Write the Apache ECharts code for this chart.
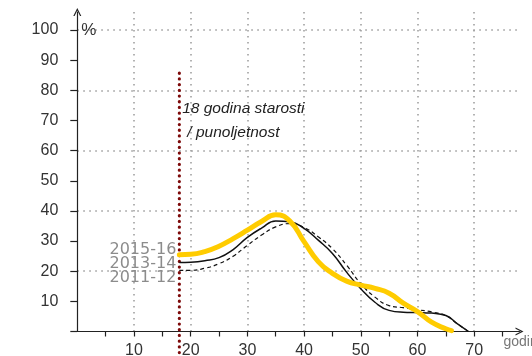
<!DOCTYPE html>
<html><head><meta charset="utf-8">
<script src="https://cdn.jsdelivr.net/npm/echarts@6/dist/echarts.min.js"></script>
<style>html,body{margin:0;padding:0;background:#fff}#c{width:532px;height:356px}</style>
</head><body><div id="c"></div>
<script>
// ---- data ----
const ages2015 = [18, 20, 22.5, 25, 27.5, 30, 32.5, 35, 37.5, 40, 42.5, 45, 47.5, 50, 52.5, 55, 57.5, 60, 62.5, 65, 66];
const vals2015 = [25.5, 25.6, 26.5, 28.3, 30.8, 33.6, 36.5, 38.7, 36.6, 29.8, 23.2, 19.3, 16.7, 15.4, 14.3, 12.7, 9.4, 6.6, 3.1, 0.9, 0.3];
const ages2013 = [18, 20, 22.5, 25, 27.5, 30, 32.5, 35, 37.5, 40, 42.5, 45, 47.5, 50, 52.5, 55, 57.5, 60, 62.5, 65, 67, 69];
const vals2013 = [22.9, 23, 23.5, 24.5, 27.2, 31.2, 34.3, 36.7, 36.4, 34.2, 30.3, 25.9, 19.7, 14.2, 9.7, 7, 6.4, 6.3, 6.1, 5.3, 2.6, 0];
const ages2011 = [18, 20, 22.5, 25, 27.5, 30, 32.5, 35, 37.5, 40, 42.5, 45, 47.5, 50, 52.5, 55, 57.5, 60, 62.5, 65, 67, 69];
const vals2011 = [20.3, 20.3, 21, 22.5, 25, 28.6, 32, 34.7, 35.8, 34.5, 31.4, 27.5, 22, 15.9, 11.4, 8.6, 7.9, 7.2, 6.5, 5.3, 2.6, 0];
const seriesNames = ['2015-16', '2013-14', '2011-12'];
const adultAge = 18;
const refLineY = [85.7, -9];
const annotationLines = ['18 godina starosti', '/ punoljetnost'];
const xTicks = [5, 10, 15, 20, 25, 30, 35, 40, 45, 50, 55, 60, 65, 70, 75];
const xLabels = [10, 20, 30, 40, 50, 60, 70];
const yTicks = [0, 10, 20, 30, 40, 50, 60, 70, 80, 90, 100];
const yLabels = [10, 20, 30, 40, 50, 60, 70, 80, 90, 100];

const zip = (a, b) => a.map((x, i) => [x, b[i]]);
const arrow = 'path://M0,10 L5,0 L10,10 L8.4,10 L5,3.2 L1.6,10 Z';
const grid = {left: 77.3, right: 12.5, top: 12, bottom: 24.5, outerBoundsMode: 'none', containLabel: false};
const gridLine = {show: true, showMinLine: false, showMaxLine: false, lineStyle: {color: '#9a9a9a', width: 1.5, type: [1.5, 4.5]}};
const labelFont = {fontFamily: 'Liberation Sans', fontSize: 16, color: '#333'};

function startLabel(text, offY) {
  return {show: true, position: 'left', distance: 3, offset: [0, offY], formatter: text,
    fontFamily: 'DejaVu Sans', fontSize: 16, color: '#8c8c8c'};
}
function withStartLabel(pts, text, offY) {
  return pts.map((p, i) => i === 0 ? {value: p, label: startLabel(text, offY)} : {value: p});
}
const lineBase = {type: 'line', smooth: 0.5, showSymbol: true, showAllSymbol: true, symbol: 'circle', symbolSize: 0, label: {show: false}};

const chart = echarts.init(document.getElementById('c'), null, {renderer: 'canvas'});
chart.setOption({
  animation: false,
  grid: grid,
  xAxis: [
    {type: 'value', min: 0, max: 78,
      name: 'godine', nameLocation: 'end', nameGap: -16,
      nameTextStyle: {fontFamily: 'Liberation Sans', fontSize: 14, color: '#777', align: 'left', verticalAlign: 'top', padding: [4, 0, 0, 0]},
      axisLine: {show: true, onZero: true, symbol: ['none', arrow], symbolSize: [8, 9], lineStyle: {color: '#222', width: 1.2}},
      axisTick: {show: true, length: 5, customValues: xTicks, lineStyle: {color: '#222', width: 1.2}},
      axisLabel: {show: true, customValues: xLabels, margin: 11, ...labelFont},
      splitLine: {show: false}},
    {type: 'value', min: 0, max: 78, interval: 10, position: 'top',
      axisLine: {show: false}, axisTick: {show: false}, axisLabel: {show: false}, splitLine: gridLine}
  ],
  yAxis: [
    {type: 'value', min: 0, max: 106,
      name: '%', nameLocation: 'end', nameGap: -27,
      nameTextStyle: {fontFamily: 'Liberation Sans', fontSize: 17, color: '#333', align: 'left', padding: [0, 0, 0, 4]},
      axisLine: {show: true, symbol: ['none', arrow], symbolSize: [8, 9], lineStyle: {color: '#222', width: 1.2}},
      axisTick: {show: true, length: 7, customValues: yTicks, lineStyle: {color: '#222', width: 1.2}},
      axisLabel: {show: true, customValues: yLabels, margin: 19, ...labelFont},
      splitLine: {show: false}},
    {type: 'value', min: 0, max: 106, interval: 20, position: 'right',
      axisLine: {show: false}, axisTick: {show: false}, axisLabel: {show: false}, splitLine: gridLine}
  ],
  series: [
    {type: 'line', name: 'ref', data: [[adultAge, refLineY[0]], [adultAge, refLineY[1]]],
      clip: false, showSymbol: false, silent: true,
      lineStyle: {color: '#7d0a0a', width: 3.2, type: [0.1, 5.6], cap: 'round'},
      markPoint: {symbol: 'circle', symbolSize: 0, silent: true,
        label: {show: true, position: 'right', distance: 0, fontFamily: 'Liberation Sans', fontStyle: 'italic', fontSize: 15.5, color: '#222'},
        data: [
          {coord: [18.5, 74.0], label: {formatter: annotationLines[0]}},
          {coord: [19.4, 66.0], label: {formatter: annotationLines[1]}}
        ]}},
    {...lineBase, name: seriesNames[2], data: withStartLabel(zip(ages2011, vals2011), seriesNames[2], 8),
      lineStyle: {color: '#111', width: 1.2, type: [4, 3]}},
    {...lineBase, name: seriesNames[1], data: withStartLabel(zip(ages2013, vals2013), seriesNames[1], 1.5),
      lineStyle: {color: '#111', width: 1.5}},
    {...lineBase, name: seriesNames[0], data: withStartLabel(zip(ages2015, vals2015), seriesNames[0], -5),
      lineStyle: {color: '#FFCC00', width: 5, cap: 'round'}}
  ]
});
</script></body></html>
